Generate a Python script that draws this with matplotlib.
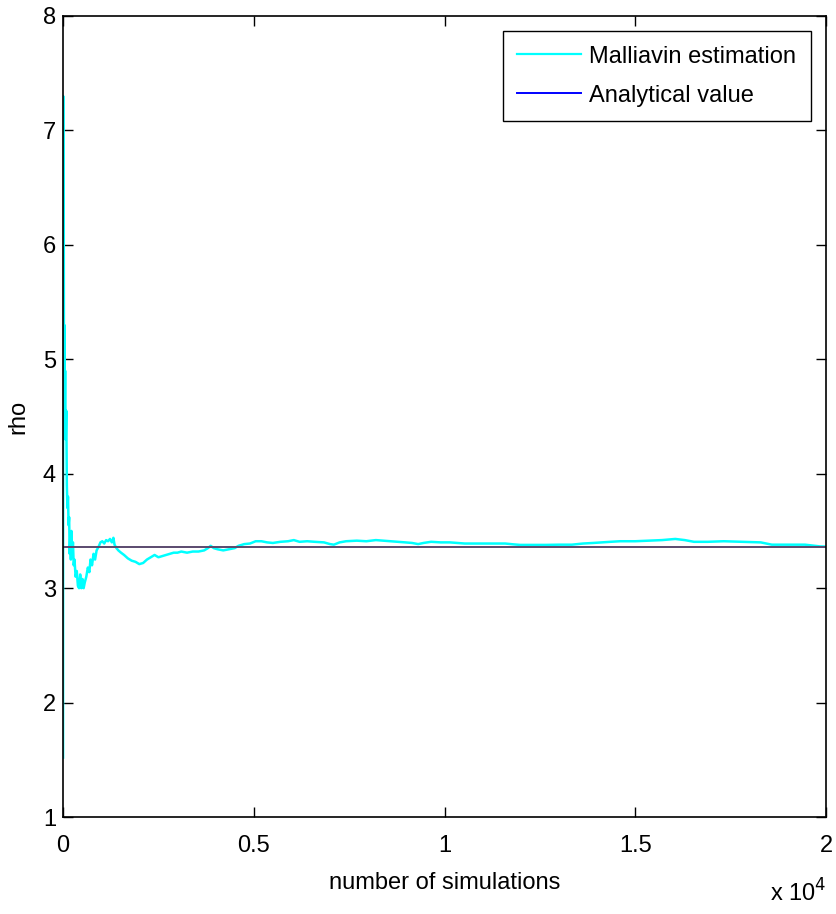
import matplotlib
matplotlib.use('Agg')
import matplotlib.pyplot as plt
from matplotlib.lines import Line2D
from matplotlib.ticker import FuncFormatter

plt.rcParams['font.family'] = ['Liberation Sans', 'DejaVu Sans']

# Running Malliavin estimate of rho
sims = [1, 4, 10, 18, 25, 35, 45, 55, 70, 85, 100, 115, 130, 145, 160, 175, 190,
        205, 220, 240, 260, 280, 300, 330, 360, 390, 420, 450, 480, 510, 540, 570,
        610, 650, 690, 720, 760, 800, 840, 880, 930, 980, 1030, 1080, 1130, 1180,
        1230, 1280, 1320, 1350, 1400, 1450, 1520, 1600, 1700, 1800, 1900, 2000,
        2100, 2200, 2300, 2400, 2500, 2600, 2700, 2800, 2900, 3000, 3100, 3250,
        3400, 3550, 3700, 3800, 3870, 3950, 4050, 4200, 4350, 4500, 4600, 4750,
        4900, 5050, 5200, 5350, 5500, 5700, 5900, 6050, 6200, 6400, 6600, 6840,
        7000, 7100, 7250, 7420, 7700, 7950, 8200, 8400, 8590, 8800, 8970, 9150,
        9310, 9450, 9650, 9900, 10140, 10350, 10530, 11000, 11590, 11800, 11980,
        12300, 12660, 13000, 13340, 13630, 13900, 14110, 14350, 14600, 15000,
        15380, 15700, 16050, 16300, 16540, 16900, 17320, 17800, 18290, 18580,
        19000, 19450, 19840, 20000]
rho_est = [1.52, 7.3, 5.8, 6.4, 4.9, 5.3, 4.6, 4.9, 4.3, 4.55, 3.9, 3.7, 3.8, 3.55,
           3.62, 3.3, 3.45, 3.25, 3.5, 3.3, 3.4, 3.2, 3.25, 3.1, 3.15, 3.02, 3.0,
           3.12, 3.0, 3.08, 3.0, 3.05, 3.1, 3.18, 3.14, 3.25, 3.2, 3.3, 3.25, 3.33,
           3.36, 3.4, 3.41, 3.39, 3.42, 3.41, 3.43, 3.4, 3.44, 3.38, 3.35, 3.33,
           3.31, 3.29, 3.26, 3.24, 3.23, 3.21, 3.22, 3.25, 3.27, 3.29, 3.27, 3.28,
           3.29, 3.3, 3.31, 3.31, 3.32, 3.31, 3.32, 3.32, 3.33, 3.35, 3.37, 3.35,
           3.34, 3.33, 3.34, 3.35, 3.37, 3.385, 3.39, 3.41, 3.41, 3.40, 3.395,
           3.405, 3.41, 3.42, 3.405, 3.41, 3.405, 3.40, 3.385, 3.38, 3.40, 3.41,
           3.415, 3.41, 3.42, 3.415, 3.41, 3.405, 3.40, 3.395, 3.385, 3.395, 3.405,
           3.40, 3.40, 3.395, 3.39, 3.39, 3.39, 3.383, 3.378, 3.378, 3.378, 3.38,
           3.38, 3.39, 3.395, 3.40, 3.405, 3.41, 3.41, 3.415, 3.42, 3.43, 3.42,
           3.405, 3.405, 3.41, 3.405, 3.40, 3.38, 3.38, 3.38, 3.365, 3.363]
analytical = 3.36

fs = 17

fig = plt.figure(figsize=(8.36, 9.14), dpi=100)
ax = fig.add_axes([0.0754, 0.1061, 0.9126, 0.8764])

ax.plot(sims, rho_est, color='#00ffff', linewidth=1.8)
ax.axhline(analytical, color='#5a4a6e', linewidth=1.4)

ax.set_xlim(0, 20000)
ax.set_ylim(1, 8)
ax.set_xticks([0, 5000, 10000, 15000, 20000])
ax.xaxis.set_major_formatter(FuncFormatter(lambda v, p: '%g' % (v / 1e4)))
ax.set_yticks(range(1, 9))

ax.tick_params(direction='in', length=7, width=1, labelsize=fs,
               top=True, right=True)
ax.tick_params(axis='x', pad=13)
ax.tick_params(axis='y', pad=5)
for s in ax.spines.values():
    s.set_linewidth(1.2)

ax.set_xlabel('number of simulations', fontsize=fs, labelpad=11)
ax.set_ylabel('rho', fontsize=fs, labelpad=10)
ax.text(1.0, -0.078, 'x 10$^{4}$', transform=ax.transAxes, fontsize=fs,
        ha='right', va='top')

handles = [Line2D([], [], color='#00ffff', linewidth=1.6),
           Line2D([], [], color='#0000ff', linewidth=1.4)]
leg = ax.legend(handles, ['Malliavin estimation', 'Analytical value'],
                loc='upper right', fontsize=fs, fancybox=False,
                framealpha=1, edgecolor='black', handlelength=2.7,
                handletextpad=0.35, borderaxespad=0.65, labelspacing=0.72,
                borderpad=0.6)
leg.get_frame().set_linewidth(1.0)

fig.savefig('out.png', dpi=100)
